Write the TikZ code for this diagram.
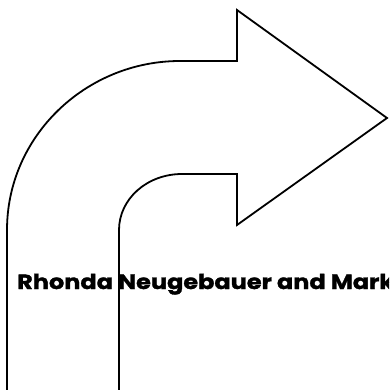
\documentclass[tikz,border=0pt]{standalone}
\usepackage{fontspec}
\usepackage{tikz}
\usetikzlibrary{positioning}
\newfontfamily\creditfont[FakeStretch=1.17, FakeBold=1.5]{Poppins Bold}

\begin{document}
\begin{tikzpicture}[
			x=1pt, y=-1pt,
			outline/.style={draw=black, line width=1.8pt, line join=miter},
			credit/.style={font=\creditfont\fontsize{20.5}{24}\selectfont, anchor=base west, inner sep=0pt}
		]
		\useasboundingbox (0,0) rectangle (389,390);
		\clip (0,0) rectangle (389,390);
		
		% Bent arrow, open at the bottom
		\draw[outline] (7,395) -- (7,230)
			.. controls (7,136) and (86,61) .. (180,61)
			-- (237,61) -- (237,10) -- (387,118) -- (237,225) -- (237,174) -- (182,174)
			.. controls (147,174) and (119,199) .. (119,230)
			-- (119,395);
		
		% Credit line (runs off the right edge)
		\node[credit] (names) at (17,289) {Rhonda Neugebauer and Mark};
		\end{tikzpicture}
\end{document}
